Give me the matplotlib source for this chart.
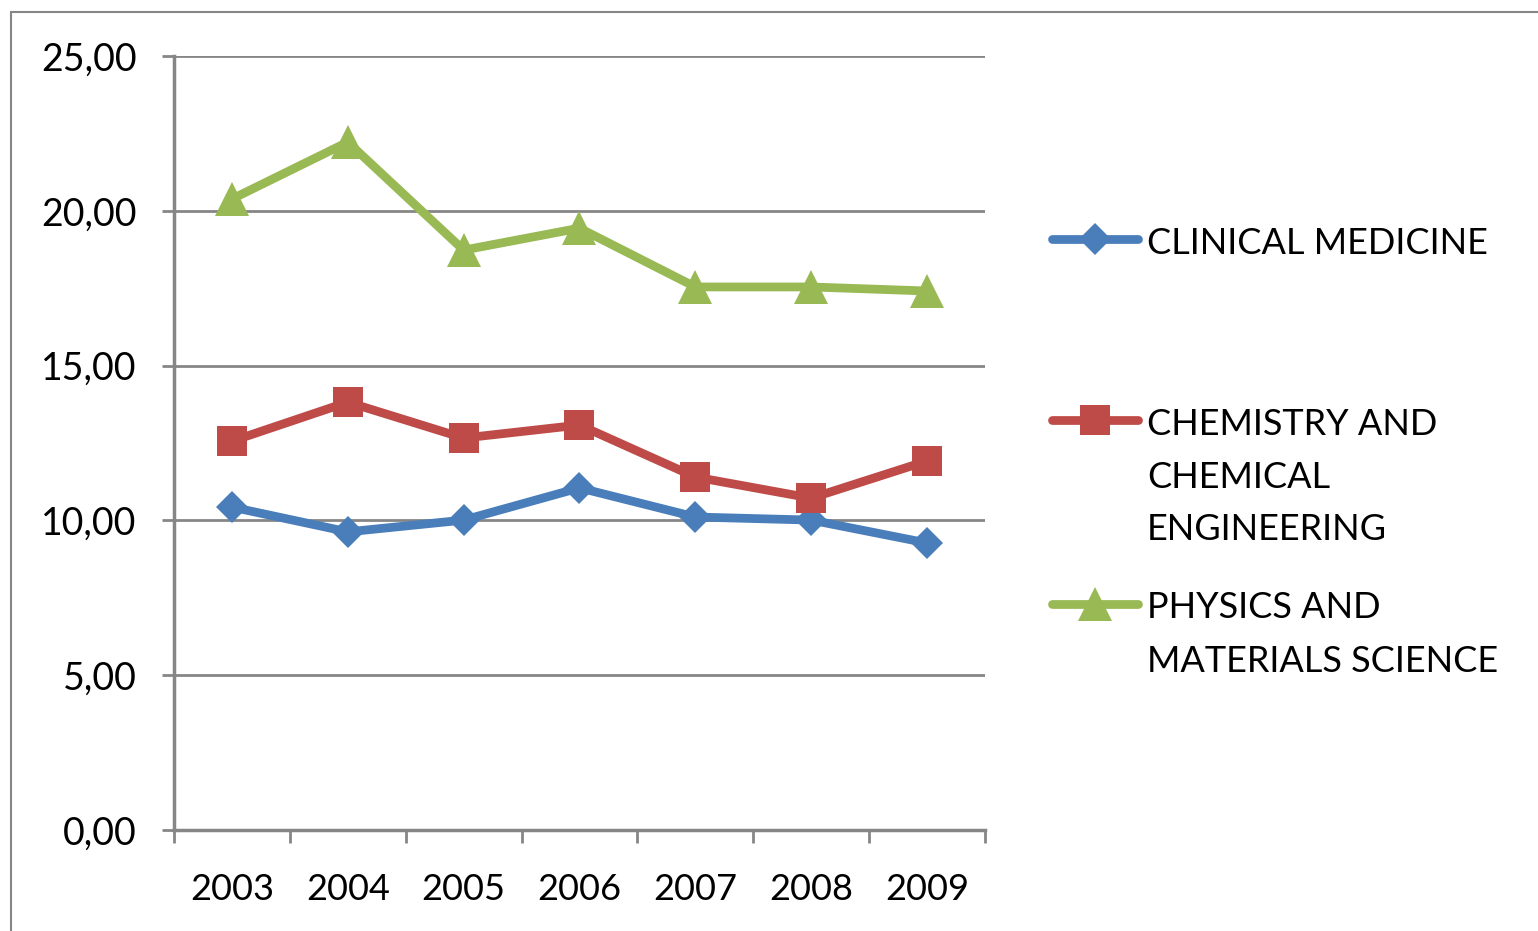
import matplotlib.pyplot as plt
from matplotlib.lines import Line2D
from matplotlib.patches import Rectangle

plt.rcParams['font.family'] = ['Lato', 'DejaVu Sans']

years = ['2003', '2004', '2005', '2006', '2007', '2008', '2009']
clinical = [10.43, 9.63, 10.01, 11.05, 10.11, 10.01, 9.27]
chemistry = [12.56, 13.82, 12.66, 13.08, 11.40, 10.72, 11.92]
physics = [20.38, 22.22, 18.73, 19.44, 17.54, 17.54, 17.41]
ytick_vals = [0, 5, 10, 15, 20, 25]
ytick_labels = ['0,00', '5,00', '10,00', '15,00', '20,00', '25,00']
labels = ['CLINICAL MEDICINE',
          'CHEMISTRY AND\nCHEMICAL\nENGINEERING',
          'PHYSICS AND\nMATERIALS SCIENCE']

BLUE = '#4A7EBB'
RED = '#BE4B48'
GREEN = '#98B954'
GRAY = '#868686'

W, H = 1538, 931
fig = plt.figure(figsize=(W / 100, H / 100), dpi=100)
ax = fig.add_axes([174 / W, 1 - 830 / H, (985 - 174) / W, (830 - 56) / H])

x = range(len(years))
series = [
    (clinical, BLUE, 'D', 16),
    (chemistry, RED, 's', 22),
    (physics, GREEN, '^', 25),
]
for vals, col, mk, ms in series:
    ax.plot(x, vals, color=col, lw=6.3, marker=mk, markersize=ms,
            markeredgewidth=0, solid_capstyle='round', zorder=3)

ax.set_xlim(-0.5, len(years) - 0.5)
ax.set_ylim(0, 25)

ax.set_yticks(ytick_vals)
ax.set_yticklabels(ytick_labels, fontsize=27)
ax.set_xticks(list(x))
ax.set_xticklabels(years, fontsize=26)
ax.set_xticks([i - 0.5 for i in range(len(years) + 1)], minor=True)
ax.tick_params(axis='x', which='major', length=0, pad=31)
ax.tick_params(axis='x', which='minor', length=9, width=2, color=GRAY)
ax.tick_params(axis='y', length=9, width=2, color=GRAY, pad=18)

ax.grid(axis='y', color=GRAY, lw=2)
ax.set_axisbelow(True)
for s in ['top', 'right']:
    ax.spines[s].set_visible(False)
for s in ['left', 'bottom']:
    ax.spines[s].set_color(GRAY)
    ax.spines[s].set_linewidth(2.5)

# legend drawn by hand: marker row aligned with first text line
leg_rows = [239, 420, 604]
line_step = 53
for (vals, col, mk, ms), lab, yr in zip(series, labels, leg_rows):
    yf = 1 - yr / H
    fig.add_artist(Line2D([1052 / W, 1138 / W], [yf, yf], color=col, lw=6.3,
                          solid_capstyle='round', transform=fig.transFigure))
    fig.add_artist(Line2D([1095 / W], [yf], color=col, marker=mk, markersize=ms,
                          markeredgewidth=0, transform=fig.transFigure))
    for k, part in enumerate(lab.split('\n')):
        fig.text(1147 / W, 1 - (yr + 4 + k * line_step) / H, part, fontsize=26,
                 va='center', ha='left')

fig.add_artist(Rectangle((11 / W, -0.1), 1.2, 1 - 12 / H + 0.1, fill=False,
                         edgecolor=GRAY, lw=1.5, transform=fig.transFigure))

fig.savefig('out.png', dpi=100)
